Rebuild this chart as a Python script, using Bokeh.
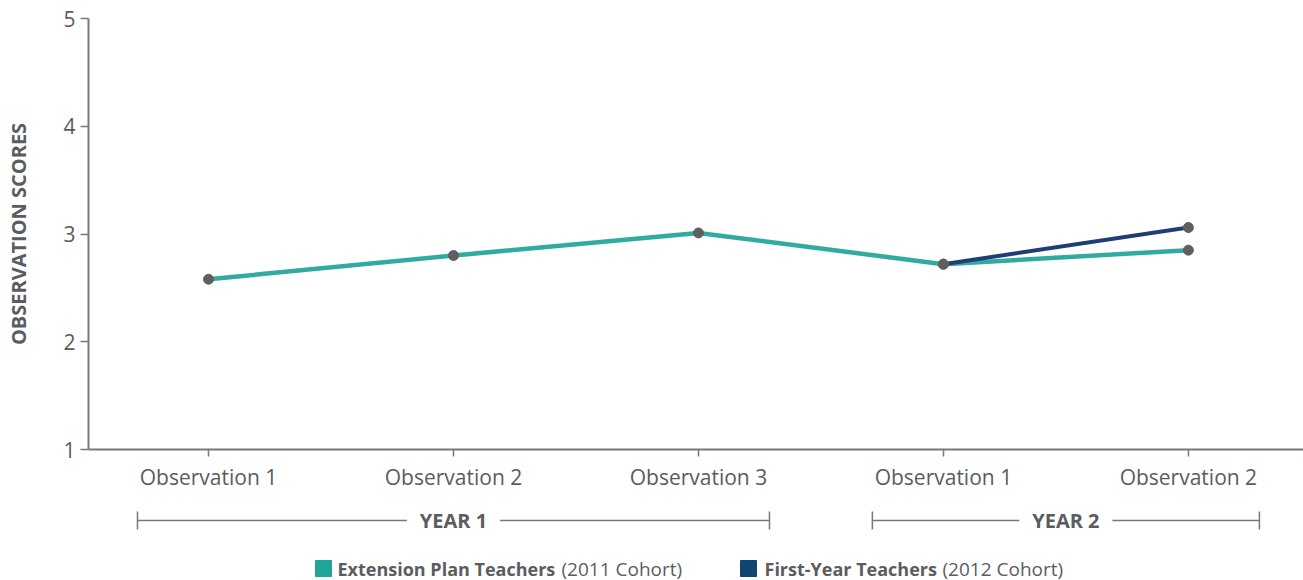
from bokeh.plotting import figure
from bokeh.models import Range1d, FixedTicker
from bokeh.layouts import column
from bokeh.embed import file_html
from bokeh.resources import INLINE
from bokeh.core.properties import value

# ---- data -------------------------------------------------------------
observations = ["Observation 1", "Observation 2", "Observation 3",
                "Observation 1", "Observation 2"]
extension_scores = [2.58, 2.80, 3.01, 2.72, 2.85]      # 2011 cohort
first_year_idx = [3, 4]                                  # year-2 observations
first_year_scores = [2.72, 3.06]                         # 2012 cohort
years = ["YEAR 1", "YEAR 2"]
year_first = [0, 3]
year_last = [2, 4]
y_ticks = [1, 2, 3, 4, 5]

series_names = ["Extension Plan Teachers", "First-Year Teachers"]
series_notes = ["(2011 Cohort)", "(2012 Cohort)"]

# ---- style ------------------------------------------------------------
FONT = "Open Sans"
TEXT = "#5b5c5e"
AXIS = "#77787b"
TEAL = "#26a59a"
NAVY = "#1f3e74"
TEAL_KEY = "#1fa59a"
NAVY_KEY = "#0d4770"
DOT = "#5e5f61"

W = 1303
LEFT = 88
MAIN_H = 494
BRACKET_H = 51
LEGEND_H = 35

x_idx = list(range(len(observations)))
x_range = Range1d(-0.49, 4.47)

p = figure(width=W, height=MAIN_H, x_range=x_range, y_range=Range1d(1, 5),
           output_backend="svg", toolbar_location=None,
           min_border_left=LEFT, min_border_right=0,
           min_border_top=18, min_border_bottom=45)
p.outline_line_color = None
p.xgrid.visible = False
p.ygrid.visible = False

p.line(x_idx, extension_scores, line_color=TEAL, line_width=4.5, line_alpha=0.95)
p.line(first_year_idx, first_year_scores, line_color=NAVY, line_width=4)
p.scatter(x_idx, extension_scores, size=10, color=DOT)
p.scatter(first_year_idx, first_year_scores, size=10, color=DOT)

for ax in (p.xaxis[0], p.yaxis[0]):
    ax.axis_line_color = AXIS
    ax.axis_line_width = 2
    ax.major_tick_line_color = AXIS
    ax.major_tick_line_width = 1.5
    ax.minor_tick_line_color = None
    ax.major_tick_in = 0
    ax.major_label_text_font = FONT
    ax.major_label_text_color = TEXT
    ax.major_label_text_font_size = "21px"

p.xaxis.ticker = FixedTicker(ticks=x_idx)
p.xaxis.major_label_overrides = {i: lab for i, lab in enumerate(observations)}
p.xaxis.major_tick_out = 7
p.xaxis.major_label_standoff = 6

p.yaxis.ticker = FixedTicker(ticks=y_ticks)
p.yaxis.major_tick_out = 8
p.yaxis.major_label_standoff = 5
p.yaxis.axis_label = "OBSERVATION SCORES"
p.yaxis.axis_label_text_font = FONT
p.yaxis.axis_label_text_font_style = "bold"
p.yaxis.axis_label_text_font_size = "20px"
p.yaxis.axis_label_text_color = TEXT
p.yaxis.axis_label_standoff = 28

# ---- year brackets ----------------------------------------------------
b = figure(width=W, height=BRACKET_H, x_range=x_range,
           y_range=Range1d(0, BRACKET_H), output_backend="svg",
           toolbar_location=None, x_axis_location=None, y_axis_location=None,
           min_border_left=LEFT, min_border_right=0,
           min_border_top=0, min_border_bottom=0)
b.outline_line_color = None
b.xgrid.visible = False
b.ygrid.visible = False

pad = 0.29
gap = 0.19
yb = 25
cap = 9
mids = [(f + l) / 2 for f, l in zip(year_first, year_last)]
starts = [f - pad for f in year_first]
ends = [l + pad for l in year_last]
b.segment(x0=starts + [m + gap for m in mids], y0=[yb] * 4,
          x1=[m - gap for m in mids] + ends, y1=[yb] * 4,
          line_color=AXIS, line_width=1.5)
b.segment(x0=starts + ends, y0=[yb - cap] * 4, x1=starts + ends, y1=[yb + cap] * 4,
          line_color=AXIS, line_width=1.5)
b.text(x=mids, y=[yb] * 2, text=years, text_align="center", text_baseline="middle",
       text_font=value(FONT), text_font_style="bold", text_font_size="20px",
       text_color=TEXT)

# ---- legend (x measured in page pixels) -------------------------------
lg = figure(width=W, height=LEGEND_H, x_range=Range1d(LEFT, W),
            y_range=Range1d(0, LEGEND_H), output_backend="svg",
            toolbar_location=None, x_axis_location=None, y_axis_location=None,
            min_border_left=LEFT, min_border_right=0,
            min_border_top=0, min_border_bottom=0)
lg.outline_line_color = None
lg.xgrid.visible = False
lg.ygrid.visible = False

key_x = [323, 748]
name_x = [337, 764]
note_x = [561, 942]
ly = 12
lg.scatter(key_x, [ly] * 2, marker="square", size=16, color=[TEAL_KEY, NAVY_KEY])
lg.text(x=name_x, y=[ly] * 2, text=series_names, text_baseline="middle",
        text_font=value(FONT), text_font_style="bold", text_font_size="18px",
        text_color=TEXT)
lg.text(x=note_x, y=[ly] * 2, text=series_notes, text_baseline="middle",
        text_font=value(FONT), text_font_size="19px", text_color=TEXT)

layout = column(p, b, lg, spacing=0)
open("out.html", "w").write(file_html(layout, INLINE))
